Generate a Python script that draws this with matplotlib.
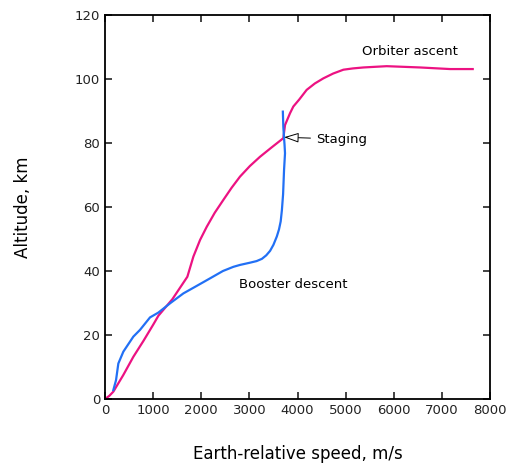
import matplotlib.pyplot as plt

plt.rcParams["font.family"] = "DejaVu Sans"
plt.rcParams["font.size"] = 9

# orbiter ascent trajectory (speed m/s, altitude km)
orb_speed = [0, 90, 173, 380, 589, 800, 1004, 1108, 1400, 1711, 1836, 1975, 2113,
             2280, 2458, 2630, 2805, 3010, 3221, 3460, 3705,
             3740, 3844, 3913, 4036, 4190, 4360, 4537, 4740, 4953, 5150, 5368,
             5853, 6546, 7170, 7640]
orb_alt = [0, 1.0, 2.3, 7.5, 13.2, 18.2, 23.3, 26.0, 31.2, 38.2, 44.5, 49.7, 53.8,
           58.2, 62.2, 66.0, 69.5, 72.8, 75.7, 78.6, 81.5,
           85.6, 89.3, 91.4, 93.6, 96.6, 98.6, 100.2, 101.7, 102.9, 103.3, 103.6,
           104.0, 103.6, 103.1, 103.1]

# booster descent trajectory
boo_speed = [173, 229, 277, 381, 589, 727, 935, 1108, 1360, 1628, 1900, 2182, 2450,
             2666, 2805, 3013, 3150, 3260, 3350, 3430, 3500, 3570, 3615, 3650,
             3675, 3700, 3720, 3740, 3730, 3720, 3705, 3695]
boo_alt = [2.8, 5.9, 11.1, 14.8, 19.5, 21.6, 25.5, 27.0, 30.0, 33.0, 35.3, 37.7, 40.0,
           41.3, 41.9, 42.6, 43.1, 43.8, 44.9, 46.3, 48.2, 50.8, 53.0, 55.5,
           59.0, 64.0, 71.6, 76.8, 79.5, 81.5, 85.0, 89.8]

fig = plt.figure(figsize=(5.11, 4.68), dpi=100)
ax = fig.add_axes([0.2055, 0.1474, 0.7535, 0.8206])

ax.plot(orb_speed, orb_alt, color="#EC1282", lw=1.6)
ax.plot(boo_speed, boo_alt, color="#2270F5", lw=1.6)

ax.set_xlim(0, 8000)
ax.set_ylim(0, 120)
ax.set_xticks(range(0, 8001, 1000))
ax.set_yticks(range(0, 121, 20))
ax.tick_params(direction="in", length=5, width=1.2, top=True, right=True,
               labelsize=9.5, colors="#222222")
for s in ax.spines.values():
    s.set_linewidth(1.3)

ax.set_xlabel("Earth-relative speed, m/s", fontsize=12, labelpad=20)
ax.set_ylabel("Altitude, km", fontsize=12, labelpad=31)

ax.text(5333, 108.5, "Orbiter ascent", fontsize=9.5, va="center", ha="left")
ax.text(2784, 35.9, "Booster descent", fontsize=9.5, va="center", ha="left")
ax.annotate("Staging", xy=(3720, 81.8), xytext=(4384, 81.2), fontsize=9.5,
            va="center", ha="left",
            arrowprops=dict(arrowstyle="-|>,head_length=0.9,head_width=0.3",
                            fc="white", ec="black", lw=0.7,
                            shrinkA=2, shrinkB=0, mutation_scale=10))

fig.savefig("out.png", dpi=100)
